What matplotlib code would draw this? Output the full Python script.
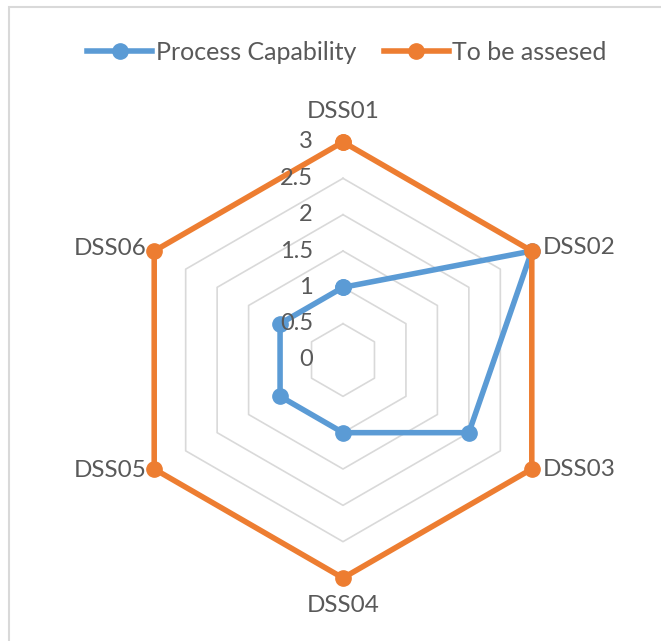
import numpy as np
import matplotlib.pyplot as plt
from matplotlib.patches import Rectangle

# Data
categories = ['DSS01', 'DSS02', 'DSS03', 'DSS04', 'DSS05', 'DSS06']
process_capability = [1, 3, 2, 1, 1, 1]
to_be_assessed = [3, 3, 3, 3, 3, 3]
levels = [0, 0.5, 1, 1.5, 2, 2.5, 3]
level_labels = ['0', '0.5', '1', '1.5', '2', '2.5', '3']

blue = '#5B9BD5'
orange = '#ED7D31'
grid_c = '#D9D9D9'
text_c = '#595959'
plt.rcParams['font.family'] = ['Lato', 'DejaVu Sans']

W, H = 661, 641
fig = plt.figure(figsize=(W / 100, H / 100), dpi=100)

# outer chart frame
fig.patches.append(Rectangle((9 / W, -0.01), 1.0, 1 - 7 / H + 0.01, transform=fig.transFigure,
                             fill=False, edgecolor=grid_c, linewidth=1.5))

cx, cy, R = 343, 360, 218
ax = fig.add_axes([(cx - R) / W, (H - cy - R) / H, 2 * R / W, 2 * R / H], projection='polar')
ax.set_theta_offset(np.pi / 2)
ax.set_theta_direction(-1)
ax.set_ylim(0, 3)
ax.grid(False)
ax.spines['polar'].set_visible(False)
ax.set_xticks([])
ax.set_yticks([])
ax.patch.set_alpha(0)

angles = np.linspace(0, 2 * np.pi, len(categories), endpoint=False)
closed = np.append(angles, angles[0])

# hexagonal gridlines
for lv in levels[1:]:
    ax.plot(closed, [lv] * (len(angles) + 1), color=grid_c, lw=1.2, zorder=1)

def close(v):
    return list(v) + [v[0]]

ax.plot(closed, close(process_capability), color=blue, lw=4, marker='o', ms=11,
        label='Process Capability', zorder=3, clip_on=False)
ax.plot(closed, close(to_be_assessed), color=orange, lw=4, marker='o', ms=11,
        label='To be assesed', zorder=3, clip_on=False)

# radial value labels
for lv, lab in zip(levels, level_labels):
    ax.annotate(lab, xy=(0, lv), xytext=(-30, 0), textcoords='offset pixels',
                ha='right', va='center', fontsize=17, color=text_c, zorder=5,
                annotation_clip=False)

# category labels
offsets = [(0, 31, 'center', 'center'), (11, 3, 'left', 'center'), (11, -1, 'left', 'center'),
           (0, -27, 'center', 'center'), (-8, -1, 'right', 'center'), (-8, 3, 'right', 'center')]
for a, lab, (dx, dy, ha, va) in zip(angles, categories, offsets):
    ax.annotate(lab, xy=(a, 3), xytext=(dx, dy), textcoords='offset pixels',
                ha=ha, va=va, fontsize=17.5, color=text_c, annotation_clip=False)

leg = fig.legend(loc='center', bbox_to_anchor=(347 / W, 1 - 52 / H), ncol=2, frameon=False,
                 fontsize=18, handlelength=2.6, handletextpad=0.15, columnspacing=1.1,
                 labelcolor=text_c)

fig.savefig('out.png', dpi=100)
